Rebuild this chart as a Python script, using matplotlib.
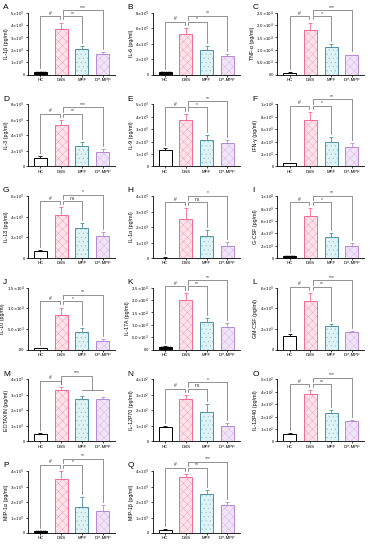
import matplotlib
matplotlib.use("Agg")
import matplotlib.pyplot as plt
import numpy as np

plt.rcParams['font.family'] = 'Liberation Sans'
plt.rcParams['hatch.linewidth'] = 0.35

groups = ["HC", "DSS", "MPF", "DP-MPF"]
letters = list("ABCDEFGHIJKLMNOPQ")
ylabels = ["IL-1β (pg/ml)", "IL-6 (pg/ml)", "TNF-α (pg/ml)",
           "IL-3 (pg/ml)", "IL-9 (pg/ml)", "IFN-γ (pg/ml)",
           "IL-13 (pg/ml)", "IL-1α (pg/ml)", "G-CSF (pg/ml)",
           "IL-10 (pg/ml)", "IL-17A (pg/ml)", "GM-CSF (pg/ml)",
           "EOTAXIN (pg/ml)", "IL-12P70 (pg/ml)", "IL-12P40 (pg/ml)",
           "MIP-1α (pg/ml)", "MIP-1β (pg/ml)"]

# means in units of the tick step shown on each panel
means = [[0.2, 3.7, 2.05, 1.65], [0.3, 5.2, 3.2, 2.4], [0.08, 1.8, 1.1, 0.78],
         [1.1, 5.3, 2.6, 1.8], [1.3, 3.75, 2.1, 1.85], [0.5, 7.5, 3.9, 3.1],
         [0.7, 4.2, 2.9, 2.1], [0.03, 2.5, 1.45, 0.8], [0.3, 6.8, 3.4, 1.9],
         [0.03, 0.85, 0.43, 0.22], [0.1, 2.0, 1.13, 0.92], [1.3, 4.7, 2.3, 1.7],
         [0.5, 3.3, 2.7, 2.7], [0.9, 2.7, 1.9, 1.0], [0.6, 3.8, 2.3, 1.6],
         [0.1, 3.5, 1.7, 1.4], [0.2, 3.6, 2.5, 1.8]]
errs = [[0.05, 0.5, 0.25, 0.15], [0.05, 0.8, 0.5, 0.3], [0.02, 0.3, 0.15, 0.03],
        [0.2, 0.7, 0.5, 0.4], [0.15, 0.5, 0.4, 0.3], [0.1, 1.3, 0.8, 0.7],
        [0.1, 0.7, 0.5, 0.4], [0.02, 0.7, 0.35, 0.25], [0.05, 1.2, 0.6, 0.5],
        [0.02, 0.17, 0.1, 0.04], [0.03, 0.3, 0.15, 0.15], [0.25, 0.8, 0.2, 0.1],
        [0.05, 0.2, 0.2, 0.15], [0.1, 0.3, 0.5, 0.2], [0.1, 0.3, 0.2, 0.15],
        [0.03, 0.5, 0.6, 0.4], [0.05, 0.2, 0.3, 0.2]]
hc_dots = [True, True, False, False, False, False, False, False, True,
           False, True, False, False, False, False, True, False]

ymaxes = [5, 8, 2.5, 8, 5, 10, 6, 4, 10, 1.5, 2.5, 6, 4, 4, 5, 4, 4]
tick_vals = [[0, 1, 2, 3, 4, 5], [0, 2, 4, 6, 8], [0, 0.5, 1, 1.5, 2, 2.5],
             [0, 2, 4, 6, 8], [0, 1, 2, 3, 4, 5], [0, 2, 4, 6, 8, 10],
             [0, 2, 4, 6], [0, 1, 2, 3, 4], [0, 2, 4, 6, 8, 10],
             [0, 0.5, 1, 1.5], [0, 0.5, 1, 1.5, 2, 2.5], [0, 2, 4, 6],
             [0, 1, 2, 3, 4], [0, 1, 2, 3, 4], [0, 1, 2, 3, 4, 5],
             [0, 1, 2, 3, 4], [0, 1, 2, 3, 4]]
tick_exp = [3, 3, 4, 3, 3, 3, 3, 3, 3, 4, 4, 3, 3, 2, 2, 3, 3]

sig_mpf = ["**", "*", "*", "**", "*", "*", "ns", "ns", "*", "*", "**", "**",
           "***", "ns", "**", "*", "**"]
sig_dp = ["***", "**", "***", "***", "**", "**", "*", "*", "**", "**", "**", "***",
          "***", "*", "***", "**", "***"]

edge_cols = ["black", "#f06a93", "#4f8fa6", "#b58ad6"]
fill_cols = ["white", "#fde3ea", "#def3f5", "#f0e4f8"]
hatches = [None, "xxxx", "....", "xxxx"]
hatch_cols = [None, "#f5a0b8", "#9cc5cf", "#e0b8e8"]


def tick_label(v, e):
    if v == 0:
        return "0" if e < 4 else "0.0"
    if v >= 10:
        return r"$1{\times}10^{%d}$" % (e + 1)
    if float(v).is_integer() and e < 4:
        return r"$%d{\times}10^{%d}$" % (v, e)
    if v < 1:
        return r"$%.1f{\times}10^{%d}$" % (v * 10, e - 1)
    return r"$%.1f{\times}10^{%d}$" % (v, e)


def bracket(ax, x1, x2, y, yl1, yl2, label, ymax):
    c = "#666666"
    ax.plot([x1, x1, x2, x2], [yl1, y, y, yl2], color=c, lw=0.5, clip_on=False)
    ax.text((x1 + x2) / 2, y + ymax * 0.01, label, ha="center", va="bottom",
            fontsize=3.6, color="#333333")


fig = plt.figure(figsize=(3.74, 5.5), dpi=100)
W, H = 374, 550
cw, ch = W / 3, H / 6

for i in range(len(letters)):
    r, c = divmod(i, 3)
    x0 = c * cw
    y0 = H - (r + 1) * ch
    fig.text((x0 + 3) / W, (y0 + ch - 4) / H, letters[i], fontsize=6,
             ha="left", va="top")
    ax = fig.add_axes([(x0 + 28) / W, (y0 + 17) / H, 87 / W, 62 / H])
    ym = ymaxes[i]
    xs = np.arange(4)
    for j in range(4):
        if j == 0:
            ax.bar(xs[j], means[i][j], width=0.62, color="white",
                   edgecolor="black", lw=0.7, zorder=2)
        else:
            ax.bar(xs[j], means[i][j], width=0.62, color=fill_cols[j],
                   edgecolor=hatch_cols[j], hatch=hatches[j], lw=0, zorder=2)
            ax.bar(xs[j], means[i][j], width=0.62, color="none",
                   edgecolor=edge_cols[j], lw=0.7, zorder=3)
        ax.errorbar(xs[j], means[i][j], yerr=[[0], [errs[i][j]]], fmt="none",
                    ecolor=edge_cols[j], elinewidth=0.6, capsize=1.6,
                    capthick=0.6, zorder=1)
    if hc_dots[i]:
        ax.scatter(np.linspace(-0.22, 0.22, 6), np.full(6, means[i][0] * 0.7),
                   s=2.5, color="black", zorder=4)

    ax.set_xlim(-0.6, 3.6)
    ax.set_ylim(0, ym)
    ax.set_yticks(tick_vals[i])
    ax.set_yticklabels([tick_label(v, tick_exp[i]) for v in tick_vals[i]])
    ax.set_xticks(xs)
    ax.set_xticklabels(groups)
    ax.tick_params(axis="y", labelsize=2.8, length=1.5, width=0.5, pad=1)
    ax.tick_params(axis="x", labelsize=3.2, length=1.5, width=0.5, pad=1)
    for s in ["top", "right"]:
        ax.spines[s].set_visible(False)
    for s in ["left", "bottom"]:
        ax.spines[s].set_linewidth(0.6)
    ax.set_ylabel(ylabels[i], fontsize=3.8, labelpad=1)

    tops = [means[i][j] + errs[i][j] for j in range(4)]
    gap = ym * 0.05
    yb1 = max(tops[:3]) + ym * 0.1
    if i == 12:
        bracket(ax, 0, 1, yb1, tops[0] + gap, tops[1] + gap, "#", ym)
        ax.plot([2, 3], [max(tops[2:]) + gap * 2] * 2, color="#666666", lw=0.5)
        bracket(ax, 1, 2.5, yb1 + ym * 0.08, tops[1] + gap,
                max(tops[2:]) + gap * 2, "***", ym)
        continue
    bracket(ax, 0, 0.95, yb1, tops[0] + gap, tops[1] + gap, "#", ym)
    bracket(ax, 1.1, 2, yb1, tops[1] + gap, tops[2] + gap, sig_mpf[i], ym)
    bracket(ax, 1.1, 3, yb1 + ym * 0.1, yb1 + ym * 0.03, tops[3] + gap, sig_dp[i], ym)

fig.savefig("out.png", dpi=100)
